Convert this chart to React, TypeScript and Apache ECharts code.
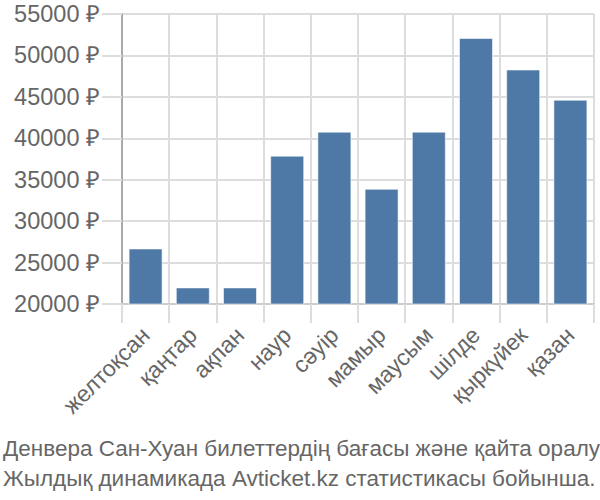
import React, { useEffect, useRef } from "react";
import * as echarts from "echarts";

const categories = ["желтоқсан", "қаңтар", "ақпан", "наур", "сәуір", "мамыр", "маусым", "шілде", "қыркүйек", "қазан"];
const prices = [26700, 22000, 22000, 37900, 40800, 33900, 40800, 52100, 48300, 44650];
const yMin = 20000;
const yMax = 55000;
const yStep = 5000;
const titleLines = [
  "Денвера Сан-Хуан билеттердің бағасы және қайта оралу",
  "Жылдық динамикада Avticket.kz статистикасы бойынша.",
];

export default function App() {
  const ref = useRef<HTMLDivElement>(null);
  useEffect(() => {
    if (!ref.current) return;
    const chart = echarts.init(ref.current, null, { renderer: "svg" });
    const font = "'Liberation Sans', Arial, sans-serif";
    chart.setOption({
      animation: false,
      graphic: titleLines.map((t, i) => ({
        type: "text",
        left: 3,
        top: 437 + i * 30,
        style: { text: t, fontFamily: font, fontSize: 22.5, fill: "#666" },
      })),
      grid: { left: 122, right: 6, top: 14, bottom: 196, containLabel: false },
      xAxis: {
        type: "category",
        data: categories,
        axisLine: { show: true, lineStyle: { color: "#ccc", width: 2 } },
        axisTick: { show: true, length: 19, lineStyle: { color: "#ddd", width: 2 } },
        splitLine: { show: true, lineStyle: { color: "#ddd", width: 2 } },
        axisLabel: { rotate: 45, margin: 27, fontFamily: font, fontSize: 23, color: "#666", interval: 0 },
      },
      yAxis: {
        type: "value",
        min: yMin,
        max: yMax,
        interval: yStep,
        axisLine: { show: true, lineStyle: { color: "#aaa", width: 2 } },
        axisTick: { show: true, length: 20, lineStyle: { color: "#ddd", width: 2 } },
        splitLine: { show: true, lineStyle: { color: "#ddd", width: 2 } },
        axisLabel: { margin: 22, fontFamily: font, fontSize: 23.5, color: "#666", formatter: (v: number) => v + " ₽" },
      },
      series: [
        {
          type: "bar",
          data: prices,
          barCategoryGap: "28%",
          itemStyle: { color: "#4e79a7", borderColor: "rgba(255,255,255,0.55)", borderWidth: 1 },
        },
      ],
    });
    return () => chart.dispose();
  }, []);
  return <div ref={ref} style={{ position: "absolute", left: 0, top: 0, width: 600, height: 500 }} />;
}
